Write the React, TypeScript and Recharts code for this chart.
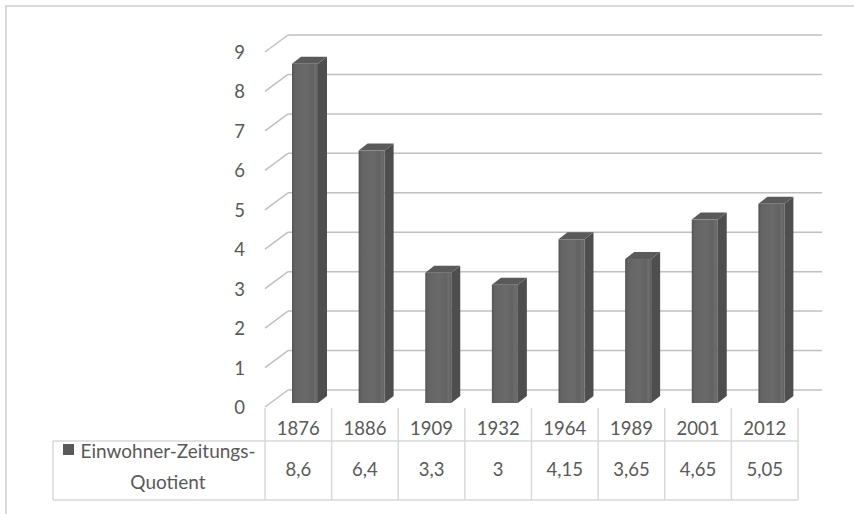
import { Bar, BarChart, CartesianGrid, XAxis, YAxis } from "recharts";

const years = ["1876", "1886", "1909", "1932", "1964", "1989", "2001", "2012"];
const quotient = [8.6, 6.4, 3.3, 3, 4.15, 3.65, 4.65, 5.05];
const valueLabels = ["8,6", "6,4", "3,3", "3", "4,15", "3,65", "4,65", "5,05"];
const yTicks = [0, 1, 2, 3, 4, 5, 6, 7, 8, 9];
const seriesName = ["Einwohner-Zeitungs-", "Quotient"];

const rows = years.map((year, i) => ({ year, value: quotient[i] }));

const W = 854;
const H = 514;
const Y_AXIS_W = 20;
const X_AXIS_H = 20;
const M = { top: 48, right: 56, bottom: 111 - X_AXIS_H, left: 265 - Y_AXIS_W };
const BAND = (W - 265 - M.right) / years.length;

// depth of the back wall relative to the front of the floor
const WALL_DX = 23;
const WALL_DY = 17;
const FRONT_DY = 4;

const TEXT = "#595959";
const GRID = "#c0c0c0";
const TABLE = "#d9d9d9";
const FONT = "Lato, 'Open Sans', sans-serif";
const FS = 18.5;

function WallLine(props: any) {
  const { x1, x2, y1 } = props;
  const front = y1 + FRONT_DY;
  const back = front - WALL_DY;
  return (
    <g>
      <line x1={x1} y1={front} x2={x1 + WALL_DX} y2={back} stroke={GRID} strokeWidth={1.5} />
      <line x1={x1 + WALL_DX} y1={back} x2={x2 + WALL_DX + 1} y2={back} stroke={GRID} strokeWidth={1.5} />
    </g>
  );
}

function Column(props: any) {
  const { x, y, width, height } = props;
  const fx = x + 7;
  const dx = 9;
  const dy = 7;
  return (
    <g>
      <polygon
        points={`${fx + width},${y} ${fx + width + dx},${y - dy} ${fx + width + dx},${y + height - dy} ${fx + width},${y + height}`}
        fill="#4e4e4e"
      />
      <polygon points={`${fx},${y} ${fx + width},${y} ${fx + width + dx},${y - dy} ${fx + dx},${y - dy}`} fill="#5a5a5a" />
      <rect x={fx} y={y} width={width} height={height} fill="url(#colFront)" />
    </g>
  );
}

function YTick(props: any) {
  const { y, payload } = props;
  return (
    <text x={245} y={y + FRONT_DY} textAnchor="end" dominantBaseline="central" fill={TEXT} fontSize={FS} fontFamily={FONT}>
      {payload.value}
    </text>
  );
}

// the data table under the plot: one column per category
function TableTick(props: any) {
  const { x, payload, index } = props;
  const y = H - 111;
  const left = x - BAND / 2;
  const right = x + BAND / 2;
  const rowTop = y + 38;
  const rowBottom = y + 97;
  return (
    <g>
      <line x1={left} y1={y + 5} x2={left} y2={rowBottom} stroke={TABLE} strokeWidth={1.5} />
      {index === years.length - 1 && (
        <line x1={right} y1={y + 5} x2={right} y2={rowBottom} stroke={TABLE} strokeWidth={1.5} />
      )}
      <line x1={left} y1={rowTop} x2={right} y2={rowTop} stroke={TABLE} strokeWidth={1.5} />
      <line x1={left} y1={rowBottom} x2={right} y2={rowBottom} stroke={TABLE} strokeWidth={1.5} />
      <text x={x} y={y + 25} textAnchor="middle" dominantBaseline="central" fill={TEXT} fontSize={FS} fontFamily={FONT}>
        {payload.value}
      </text>
      <text x={x} y={y + 66} textAnchor="middle" dominantBaseline="central" fill={TEXT} fontSize={FS} fontFamily={FONT}>
        {valueLabels[index]}
      </text>
      {index === 0 && (
        <g>
          <line x1={53} y1={rowTop} x2={left} y2={rowTop} stroke={TABLE} strokeWidth={1.5} />
          <line x1={53} y1={rowBottom} x2={left} y2={rowBottom} stroke={TABLE} strokeWidth={1.5} />
          <line x1={53} y1={rowTop} x2={53} y2={rowBottom} stroke={TABLE} strokeWidth={1.5} />
          <rect x={63} y={y + 41} width={11} height={11} fill="#595959" />
          <text x={168} y={y + 47} textAnchor="middle" dominantBaseline="central" fill={TEXT} fontSize={19} fontFamily={FONT}>
            {seriesName[0]}
          </text>
          <text x={168} y={y + 78} textAnchor="middle" dominantBaseline="central" fill={TEXT} fontSize={19} fontFamily={FONT}>
            {seriesName[1]}
          </text>
        </g>
      )}
    </g>
  );
}

export default function App() {
  return (
    <div style={{ position: "absolute", left: 0, top: 0, width: W, height: H, background: "#fff", overflow: "hidden" }}>
      <div
        style={{
          position: "absolute",
          left: 5,
          top: 5,
          width: W,
          height: H,
          borderLeft: `2px solid ${TABLE}`,
          borderTop: `2px solid ${TABLE}`,
        }}
      />
      <BarChart width={W} height={H} data={rows} margin={M} barSize={26} style={{ position: "relative" }}>
        <defs>
          <linearGradient id="colFront" x1="0" y1="0" x2="1" y2="0">
            <stop offset="0" stopColor="#555555" />
            <stop offset="0.12" stopColor="#646464" />
            <stop offset="0.55" stopColor="#6a6a6a" />
            <stop offset="0.8" stopColor="#626262" />
            <stop offset="0.9" stopColor="#6e6e6e" />
            <stop offset="1" stopColor="#5e5e5e" />
          </linearGradient>
        </defs>
        <CartesianGrid vertical={false} horizontal={(p: any) => <WallLine key={p.key} {...p} />} />
        <XAxis
          dataKey="year"
          height={X_AXIS_H}
          axisLine={false}
          tickLine={false}
          interval={0}
          tick={(p: any) => <TableTick key={p.index} {...p} />}
        />
        <YAxis
          domain={[0, 9]}
          ticks={yTicks}
          width={Y_AXIS_W}
          axisLine={false}
          tickLine={false}
          tick={(p: any) => <YTick key={p.index} {...p} />}
        />
        <Bar dataKey="value" shape={<Column />} isAnimationActive={false} />
      </BarChart>
    </div>
  );
}
